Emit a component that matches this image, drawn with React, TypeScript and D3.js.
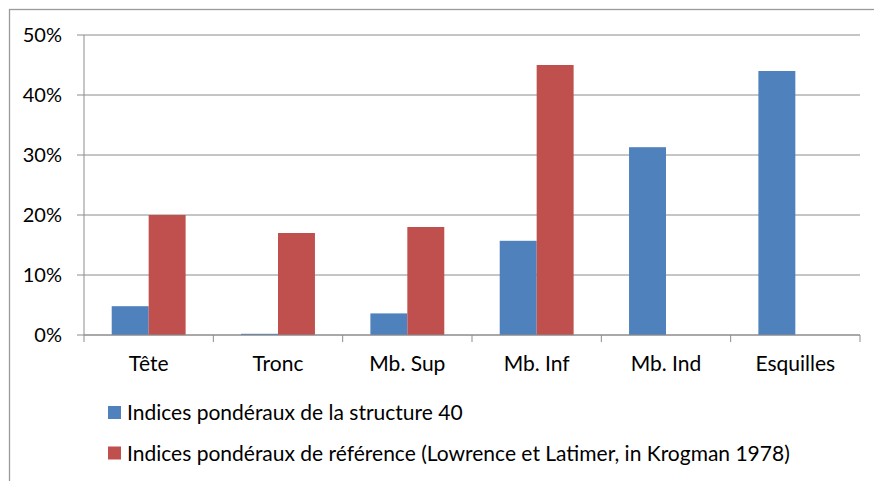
import * as React from "react";
import * as d3 from "d3";

const categories = ["Tête", "Tronc", "Mb. Sup", "Mb. Inf", "Mb. Ind", "Esquilles"];
const structure40 = [4.8, 0.2, 3.6, 15.7, 31.3, 44.0];
const reference = [20, 17, 18, 45, 0, 0];
const yTicks = [0, 10, 20, 30, 40, 50];
const seriesNames = [
    "Indices pondéraux de la structure 40",
    "Indices pondéraux de référence (Lowrence et Latimer, in Krogman 1978)",
];
const seriesColors = ["#4F81BD", "#C0504D"];

const W = 874;
const H = 481;
const font = "Lato, 'Open Sans', sans-serif";

const App: React.FC = () => {
    const left = 84, right = 860, top = 35, bottom = 335;

    const x = d3.scaleBand<string>()
        .domain(categories)
        .range([left, right]);

    const inner = d3.scaleBand<number>()
        .domain([0, 1])
        .range([0, x.bandwidth()])
        .paddingInner(0)
        .paddingOuter(0.75);

    const y = d3.scaleLinear()
        .domain([0, 50])
        .range([bottom, top]);

    const series = [structure40, reference];
    const grid = "#8c8c8c";

    // category boundaries for the bottom ticks
    const bounds = categories.map(c => x(c)!).concat([right]);

    return (
        <svg width={W} height={H} style={{ position: "absolute", left: 0, top: 0 }}>
            <rect x={0} y={0} width={W} height={H} fill="#fff" />
            <rect x={9.5} y={9.5} width={W + 20} height={H + 20} fill="none" stroke="#9a9a9a" strokeWidth={1.3} />

            {yTicks.map(t => (
                <g key={t}>
                    <line x1={left - 7} x2={right} y1={y(t)} y2={y(t)} stroke={grid} strokeWidth={1} />
                    <text x={62} y={y(t)} dy="0.35em" textAnchor="end" fontFamily={font} fontSize={20} fill="#000">
                        {t}%
                    </text>
                </g>
            ))}

            {series.map((vals, si) =>
                vals.map((v, i) => (
                    <rect
                        key={`${si}-${i}`}
                        x={x(categories[i])! + inner(si)!}
                        y={y(v)}
                        width={inner.bandwidth()}
                        height={bottom - y(v)}
                        fill={seriesColors[si]}
                    />
                ))
            )}

            <line x1={left} x2={left} y1={top} y2={bottom} stroke={grid} strokeWidth={1} />
            <line x1={left} x2={right} y1={bottom} y2={bottom} stroke={grid} strokeWidth={1} />
            {bounds.map((b, i) => (
                <line key={i} x1={b} x2={b} y1={bottom} y2={bottom + 7} stroke={grid} strokeWidth={1} />
            ))}

            {categories.map(c => (
                <text key={c} x={x(c)! + x.bandwidth() / 2} y={371} textAnchor="middle" fontFamily={font} fontSize={21} fill="#000">
                    {c}
                </text>
            ))}

            {seriesNames.map((name, i) => (
                <g key={name} transform={`translate(108, ${406 + i * 40.5})`}>
                    <rect x={0} y={0} width={13} height={13} fill={seriesColors[i]} />
                    <text x={19} y={14} fontFamily={font} fontSize={21} fill="#000">
                        {name}
                    </text>
                </g>
            ))}
        </svg>
    );
};

export default App;
